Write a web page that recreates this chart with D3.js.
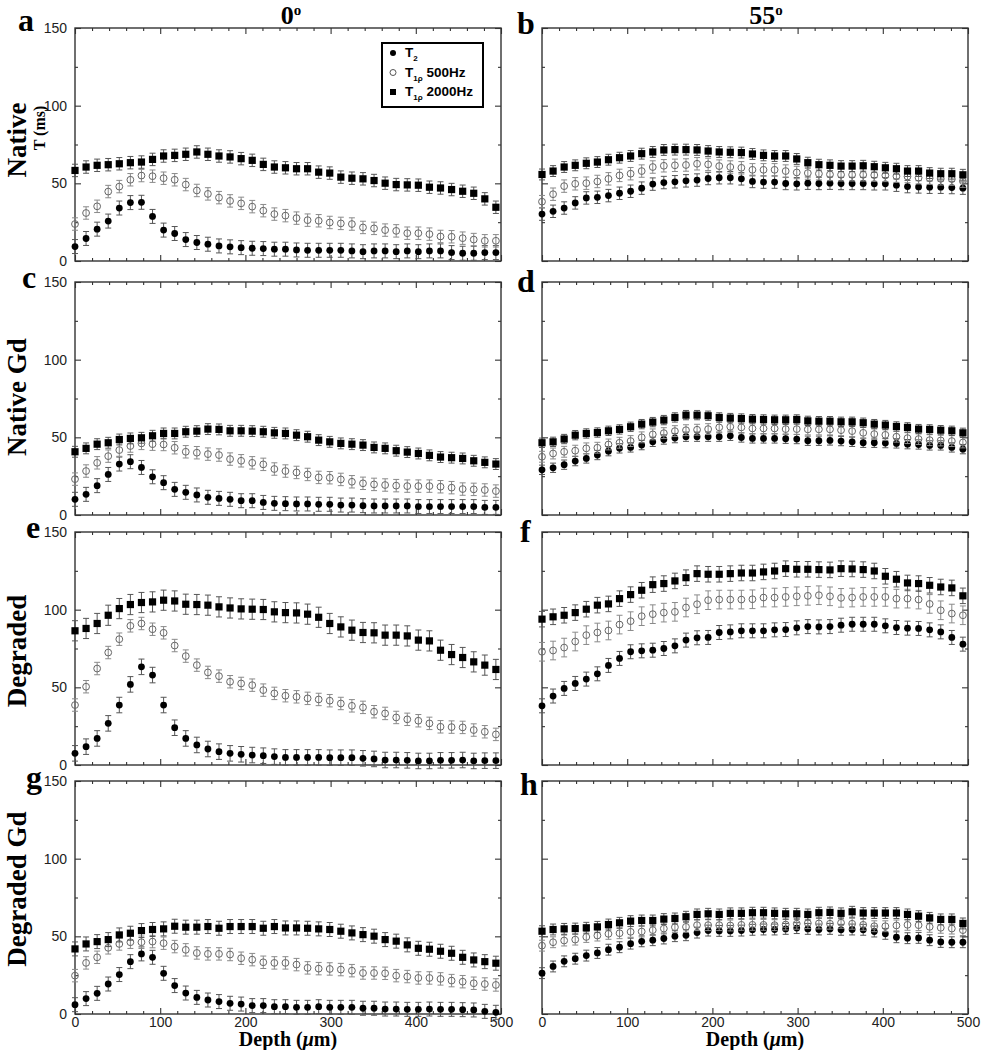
<!DOCTYPE html>
<html><head><meta charset="utf-8">
<script src="https://cdn.jsdelivr.net/npm/d3@7"></script>
<style>body{margin:0;background:#fff}</style>
</head><body><svg id="c" width="981" height="1050"></svg>
<script>
// Depth positions (µm)
const depth = [0,13,26,39,52,65,78,91,104,117,130,143,156,169,182,195,208,221,234,247,260,273,286,299,312,325,338,351,364,377,390,403,416,429,442,455,468,481,494];

// Panel a: Native 0°
const a_T2 = [9.3,14.5,20.5,25.7,34.1,37.6,37.8,28.7,19.9,17.7,13.8,11.9,10.8,9.7,9.1,8.6,8.2,8.0,7.6,7.6,7.1,6.9,6.9,6.9,6.9,6.5,6.0,6.5,6.5,6.0,6.5,6.0,6.5,6.5,5.4,5.0,5.0,5.4,5.4];
const a_T500 = [23.8,30.9,35.2,44.7,47.9,52.3,55.0,54.6,53.3,52.3,49.2,45.4,43.2,40.8,38.7,37.1,35.0,32.4,30.2,29.2,27.6,26.3,25.9,24.8,24.2,23.8,21.6,21.0,19.9,19.4,17.9,17.9,17.3,15.8,15.6,14.7,13.8,13.0,13.0];
const a_T2000 = [58.3,60.5,61.6,62.0,62.6,63.3,63.7,65.4,67.6,68.0,68.7,70.2,68.7,67.6,67.0,65.9,64.8,62.2,60.5,60.0,59.4,59.4,57.2,56.6,54.0,53.3,52.9,51.8,50.1,49.2,49.0,48.8,47.5,47.0,46.0,44.9,43.6,40.0,34.6];
// Panel b: Native 55°
const b_T2 = [30.2,32.0,34.1,37.4,40.6,41.0,42.1,43.6,44.9,46.9,49.5,50.5,51.0,51.6,52.1,53.1,53.6,53.6,52.9,51.2,50.8,50.8,49.9,49.7,50.1,49.9,50.1,49.9,49.9,49.9,49.7,49.7,48.8,47.9,47.7,47.5,47.5,47.3,46.9];
const b_T500 = [38.2,43.0,48.2,49.7,50.1,51.2,52.9,55.1,56.2,57.9,60.5,61.3,61.6,61.8,62.6,62.2,61.1,60.5,60.0,58.7,58.7,58.7,57.9,57.0,56.6,56.2,55.7,55.5,55.5,55.5,55.3,55.1,54.6,54.4,53.6,53.3,52.9,52.7,51.4];
const b_T2000 = [55.7,57.9,60.5,61.6,62.9,63.7,65.2,66.5,67.6,69.1,70.2,71.5,71.7,71.7,71.5,70.8,70.2,70.0,69.8,68.9,68.0,67.6,67.6,65.7,63.3,62.0,61.6,61.1,61.1,61.3,60.7,60.0,59.4,57.9,57.9,56.6,56.2,56.2,55.5];
// Panel c: Native Gd 0°
const c_T2 = [10.1,13.3,18.9,26.1,32.8,34.3,30.6,24.6,20.8,16.5,14.6,12.9,11.4,10.7,10.1,9.2,9.2,8.1,7.5,7.3,7.1,7.1,6.9,6.9,6.4,6.4,6.0,5.8,5.8,5.8,5.8,5.4,5.4,5.4,5.4,5.4,5.4,4.9,4.9];
const c_T500 = [23.1,28.3,33.6,37.9,41.8,44.4,46.1,45.6,45.4,43.3,40.7,40.1,39.2,38.6,36.0,34.9,33.6,32.6,29.6,28.3,27.4,26.1,24.2,24.0,22.9,21.4,20.4,19.7,19.3,18.9,18.6,18.6,18.6,18.2,17.6,16.7,16.5,16.1,15.4];
const c_T2000 = [40.7,42.9,45.6,46.5,48.6,49.3,49.7,51.0,52.5,52.5,53.6,54.0,55.3,55.1,54.2,54.2,54.0,53.6,52.9,52.5,51.4,50.4,48.2,47.1,46.1,45.6,45.0,43.5,42.9,41.4,40.5,39.6,38.4,37.3,36.9,36.4,34.9,33.9,32.8];
// Panel d: Native Gd 55°
const d_T2 = [29.1,30.4,32.4,34.7,36.4,38.6,41.1,42.9,43.5,45.0,47.1,48.6,49.5,50.4,50.4,50.4,50.4,51.0,49.9,49.3,49.3,49.3,49.1,48.9,47.8,47.8,48.0,47.6,47.1,46.5,46.5,46.3,46.1,45.6,45.4,44.8,44.8,43.5,42.4];
const d_T500 = [37.5,39.6,40.7,41.4,42.9,43.3,45.4,46.5,47.6,50.0,51.9,52.7,54.0,54.6,54.9,55.3,56.4,56.8,56.4,55.7,55.7,55.7,55.3,55.3,55.1,55.1,55.1,54.6,54.0,52.9,52.1,51.6,50.4,49.5,48.9,48.2,48.0,47.6,46.7];
const d_T2000 = [46.5,47.1,48.9,51.4,52.5,53.1,54.2,55.1,56.8,58.5,59.8,61.1,62.8,64.3,64.3,63.9,62.8,62.4,62.1,61.7,61.5,61.3,61.3,61.5,60.6,60.4,60.4,60.0,60.0,59.4,58.5,57.9,57.0,56.4,55.3,55.1,54.6,54.2,52.9];
// Panel e: Degraded 0°
const e_T2 = [7.5,11.8,17.1,26.8,38.6,51.9,63.2,57.9,38.6,24.0,17.1,12.9,10.3,8.6,7.5,6.9,6.4,6.0,5.4,4.9,4.9,4.9,4.9,4.7,4.7,4.7,4.3,3.9,3.2,3.2,3.0,2.6,2.6,3.0,3.0,3.2,2.6,2.8,2.8];
const e_T500 = [38.6,50.4,62.1,72.4,81.0,89.6,91.1,87.4,85.1,76.9,70.1,64.3,59.6,57.2,53.6,52.5,51.4,48.2,46.1,44.6,43.9,42.9,42.2,41.4,39.6,38.1,37.1,34.3,33.2,30.6,29.4,28.5,26.8,24.6,24.4,24.2,22.5,21.4,19.7];
const e_T2000 = [86.4,87.9,91.1,96.4,100.7,103.3,104.6,105.0,106.1,105.6,103.5,103.3,102.9,101.8,101.1,100.5,100.3,100.1,98.6,98.1,97.9,97.1,95.1,91.1,88.9,86.8,85.3,85.1,83.6,83.6,83.1,80.4,79.9,73.9,71.1,69.2,66.4,64.3,61.5];
// Panel f: Degraded 55°
const f_T2 = [38.1,44.4,49.3,52.5,55.3,58.7,64.1,68.6,72.9,73.5,73.9,75.0,76.7,80.4,81.9,82.1,85.3,85.7,86.4,86.4,86.4,87.0,87.2,88.3,89.1,88.9,89.1,90.0,90.6,90.6,90.6,89.6,88.5,88.1,87.9,87.0,85.7,82.1,77.8];
const f_T500 = [72.9,73.7,75.6,79.5,83.6,85.3,86.6,90.4,92.6,95.8,97.1,98.1,98.6,101.4,103.5,106.1,106.5,106.5,106.5,106.7,107.8,107.8,108.2,108.6,108.9,109.3,108.6,107.6,107.8,108.2,108.2,108.2,107.1,107.1,106.5,103.7,99.6,97.5,96.4];
const f_T2000 = [93.9,95.4,96.4,98.1,100.3,102.9,103.7,107.1,109.7,112.5,116.1,116.8,118.5,120.6,123.2,122.8,122.8,123.2,123.6,123.6,124.3,124.9,126.4,126.0,126.0,125.8,125.6,126.4,126.2,125.8,124.9,121.5,119.6,117.2,116.8,115.7,114.6,114.0,108.9];
// Panel g: Degraded Gd 0°
const g_T2 = [6.0,9.9,13.3,19.3,25.4,33.7,38.7,36.5,26.2,18.3,13.5,10.7,9.0,8.0,6.9,6.4,5.4,5.4,4.7,4.7,4.3,4.3,4.7,4.3,4.3,4.3,3.7,3.7,3.2,3.2,3.0,3.0,3.2,3.0,3.0,2.8,2.6,1.7,1.1];
const g_T500 = [24.7,32.9,36.5,42.6,45.1,46.2,46.2,46.6,45.6,43.4,41.3,39.3,38.7,38.7,38.3,35.9,35.0,33.3,32.9,32.9,31.8,29.7,29.2,29.0,28.6,27.9,26.4,26.4,26.2,24.7,24.1,23.2,23.2,22.6,21.5,20.8,19.8,19.3,18.7];
const g_T2000 = [41.9,45.1,46.6,47.9,50.9,52.0,53.7,54.4,54.8,56.5,55.9,55.9,56.3,55.2,56.3,56.3,56.3,55.2,56.3,55.4,55.4,55.2,54.8,54.4,53.3,52.2,51.1,50.1,47.9,46.9,44.5,42.3,41.7,40.4,39.1,36.5,34.8,33.7,32.7];
// Panel h: Degraded Gd 55°
const h_T2 = [26.3,30.6,33.9,35.6,37.6,39.3,41.4,43.0,45.3,46.8,47.5,48.6,50.1,50.7,52.4,53.7,53.5,53.5,53.7,54.2,54.4,54.4,54.8,55.3,54.8,54.4,54.8,54.2,54.4,54.2,53.1,51.6,49.4,48.8,49.0,47.5,46.4,46.2,46.2];
const h_T500 = [44.0,46.2,47.3,47.9,49.6,50.5,51.6,52.0,52.9,53.1,54.0,55.0,55.9,56.1,57.2,57.2,57.2,57.0,57.4,57.4,57.4,57.2,57.6,58.1,58.5,58.3,58.1,58.7,58.1,57.4,56.5,56.5,57.0,57.4,57.2,56.1,55.5,55.0,54.0];
const h_T2000 = [53.3,54.4,54.8,55.0,55.5,56.1,57.6,58.7,59.8,60.2,60.2,61.1,61.5,62.6,64.1,64.5,64.1,64.8,64.8,65.2,65.2,64.8,64.5,64.5,64.1,65.2,65.4,64.8,65.8,65.0,65.0,65.0,65.0,64.1,63.0,61.9,60.9,60.9,58.3];

// Error bar half-widths (ms) per panel: [T2, T1rho 500Hz, T1rho 2000Hz]
const errA = [4.5,4,4], errB = [4,4,3.5], errC = [4.5,4,3.5], errD = [3,3.5,3];
const errE = [5,4,6.5], errF = [4.5,6,5], errG = [4.5,4,4.5], errH = [3.5,3.5,3.5];

const rowLabels = ["Native","Native Gd","Degraded","Degraded Gd"];
const colTitles = ["0","55"];
const panelLetters = ["a","b","c","d","e","f","g","h"];
const yTicks = [0,50,100,150];
const xTicks = [0,100,200,300,400,500];

const panels = [
  {T2:a_T2,T500:a_T500,T2000:a_T2000,err:errA},
  {T2:b_T2,T500:b_T500,T2000:b_T2000,err:errB},
  {T2:c_T2,T500:c_T500,T2000:c_T2000,err:errC},
  {T2:d_T2,T500:d_T500,T2000:d_T2000,err:errD},
  {T2:e_T2,T500:e_T500,T2000:e_T2000,err:errE},
  {T2:f_T2,T500:f_T500,T2000:f_T2000,err:errF},
  {T2:g_T2,T500:g_T500,T2000:g_T2000,err:errG},
  {T2:h_T2,T500:h_T500,T2000:h_T2000,err:errH},
];

// layout
const colLeft = [75, 542], panelW = 426;
const rowTop = [28, 282, 532, 781], panelH = 233;
const letterPos = [[18,31],[517,34],[22,288],[517,292],[26,538],[520,542],[26,788],[520,795]];
const rowLabelY = [140, 397, 651, 889];
const titleX = [291, 766];

const svg = d3.select("#c");
const serif = "'Liberation Serif','Times New Roman',serif";
const sans = "'Liberation Sans',Arial,Helvetica,sans-serif";

panels.forEach((p, i) => {
  const col = i % 2, row = Math.floor(i / 2);
  const L = colLeft[col], T = rowTop[row];
  const x = d3.scaleLinear().domain([0,500]).range([L, L+panelW]);
  const y = d3.scaleLinear().domain([0,150]).range([T+panelH, T]);
  const g = svg.append("g");

  const axStyle = sel => {
    sel.select(".domain").remove();
    sel.selectAll("line").attr("stroke","#333").attr("stroke-width",1.1);
    sel.selectAll("text").attr("font-family",sans).attr("font-size",14).attr("fill","#222");
  };
  const minorX = d3.range(20,500,20).filter(v => v % 100 !== 0);
  const minorY = [25,75,125];

  // major ticks
  g.append("g").attr("transform",`translate(${L},0)`)
    .call(d3.axisLeft(y).tickValues(yTicks).tickSize(-6).tickPadding(8).tickFormat(col===0 ? d3.format("d") : ""))
    .call(axStyle);
  g.append("g").attr("transform",`translate(${L+panelW},0)`)
    .call(d3.axisRight(y).tickValues(yTicks).tickSize(-6).tickFormat("")).call(axStyle);
  g.append("g").attr("transform",`translate(0,${T})`)
    .call(d3.axisTop(x).tickValues(xTicks).tickSize(-6).tickFormat("")).call(axStyle);
  g.append("g").attr("transform",`translate(0,${T+panelH})`)
    .call(d3.axisBottom(x).tickValues(xTicks).tickSize(-6).tickPadding(3).tickFormat(row===3 ? d3.format("d") : ""))
    .call(axStyle);
  // minor ticks
  g.append("g").attr("transform",`translate(${L},0)`)
    .call(d3.axisLeft(y).tickValues(minorY).tickSize(-3).tickFormat("")).call(axStyle);
  g.append("g").attr("transform",`translate(${L+panelW},0)`)
    .call(d3.axisRight(y).tickValues(minorY).tickSize(-3).tickFormat("")).call(axStyle);
  g.append("g").attr("transform",`translate(0,${T})`)
    .call(d3.axisTop(x).tickValues(minorX).tickSize(-3).tickFormat("")).call(axStyle);
  g.append("g").attr("transform",`translate(0,${T+panelH})`)
    .call(d3.axisBottom(x).tickValues(minorX).tickSize(-3).tickFormat("")).call(axStyle);

  // frame
  g.append("rect").attr("x",L).attr("y",T).attr("width",panelW).attr("height",panelH)
    .attr("fill","none").attr("stroke","#333").attr("stroke-width",1.4);

  const series = [
    {vals:p.T2, e:p.err[0], type:"fc", ec:"#555"},
    {vals:p.T500, e:p.err[1], type:"oc", ec:"#8a8a8a"},
    {vals:p.T2000, e:p.err[2], type:"sq", ec:"#555"},
  ];
  series.forEach(s => {
    const d = depth.map((dx, k) => ({x: dx, v: s.vals[k]}));
    const eb = g.append("g").attr("stroke",s.ec).attr("stroke-width",1);
    eb.selectAll(".v").data(d).join("line")
      .attr("x1",q=>x(q.x)).attr("x2",q=>x(q.x))
      .attr("y1",q=>y(q.v - s.e)).attr("y2",q=>y(q.v + s.e));
    eb.selectAll(".t").data(d).join("line").attr("class","t")
      .attr("x1",q=>x(q.x)-3).attr("x2",q=>x(q.x)+3)
      .attr("y1",q=>y(q.v + s.e)).attr("y2",q=>y(q.v + s.e));
    eb.selectAll(".b").data(d).join("line").attr("class","b")
      .attr("x1",q=>x(q.x)-3).attr("x2",q=>x(q.x)+3)
      .attr("y1",q=>y(q.v - s.e)).attr("y2",q=>y(q.v - s.e));
    if (s.type === "fc") {
      g.append("g").selectAll("circle").data(d).join("circle")
        .attr("cx",q=>x(q.x)).attr("cy",q=>y(q.v)).attr("r",3.4).attr("fill","#000");
    } else if (s.type === "oc") {
      g.append("g").selectAll("circle").data(d).join("circle")
        .attr("cx",q=>x(q.x)).attr("cy",q=>y(q.v)).attr("r",3.4)
        .attr("fill","none").attr("stroke","#666").attr("stroke-width",1);
    } else {
      g.append("g").selectAll("rect").data(d).join("rect")
        .attr("x",q=>x(q.x)-3.6).attr("y",q=>y(q.v)-3.6).attr("width",7.2).attr("height",7.2).attr("fill","#000");
    }
  });

  // panel letter
  svg.append("text").attr("x",letterPos[i][0]).attr("y",letterPos[i][1])
    .attr("font-family",serif).attr("font-weight","bold").attr("font-size",32).text(panelLetters[i]);

  // x label
  if (row === 3) {
    const t = svg.append("text").attr("x",L+panelW/2).attr("y",1046).attr("text-anchor","middle")
      .attr("font-family",serif).attr("font-weight","bold").attr("font-size",20);
    t.append("tspan").text("Depth (");
    t.append("tspan").attr("font-style","italic").text("\u03bc");
    t.append("tspan").text("m)");
  }
});

// column titles
colTitles.forEach((ct, c) => {
  const t = svg.append("text").attr("x", titleX[c]).attr("y",24).attr("text-anchor","middle")
    .attr("font-family",serif).attr("font-weight","bold").attr("font-size",26);
  t.append("tspan").text(ct);
  t.append("tspan").attr("font-size",15).attr("dy",-9).text("o");
});

// row labels
rowLabels.forEach((rl, r) => {
  svg.append("text").attr("transform",`translate(26,${rowLabelY[r]}) rotate(-90)`)
    .attr("text-anchor","middle").attr("font-family",serif).attr("font-weight","bold").attr("font-size",27).text(rl);
});
// y-axis unit label (row a only)
svg.append("text").attr("transform",`translate(45,128) rotate(-90)`)
  .attr("text-anchor","middle").attr("font-family",serif).attr("font-weight","bold").attr("font-size",16).text("T (ms)");

// legend in panel a
const lg = svg.append("g");
lg.append("rect").attr("x",382).attr("y",43).attr("width",101).attr("height",64)
  .attr("fill","#fff").attr("stroke","#000").attr("stroke-width",2);
const legendItems = [
  {type:"fc", main:"T", sub:"2", rest:""},
  {type:"oc", main:"T", sub:"1\u03c1", rest:" 500Hz"},
  {type:"sq", main:"T", sub:"1\u03c1", rest:" 2000Hz"},
];
legendItems.forEach((it, k) => {
  const cy = 53 + k*19.5;
  if (it.type === "fc") lg.append("circle").attr("cx",393).attr("cy",cy).attr("r",3).attr("fill","#000");
  else if (it.type === "oc") lg.append("circle").attr("cx",393).attr("cy",cy).attr("r",3).attr("fill","none").attr("stroke","#555");
  else lg.append("rect").attr("x",390).attr("y",cy-3).attr("width",6).attr("height",6).attr("fill","#000");
  const t = lg.append("text").attr("x",405).attr("y",cy+4).attr("font-family",sans).attr("font-weight","bold").attr("font-size",13.5);
  t.append("tspan").text(it.main);
  t.append("tspan").attr("font-size",8).attr("dy",4).text(it.sub);
  t.append("tspan").attr("dy",-4).text(it.rest);
});
</script>
</body></html>
